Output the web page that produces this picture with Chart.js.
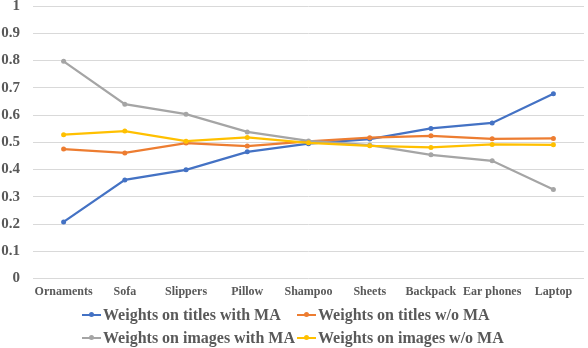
<!DOCTYPE html>
<html>
<head>
<meta charset="utf-8">
<script src="https://cdn.jsdelivr.net/npm/chart.js@4"></script>
<style>
    body { margin:0; background:#fff; }
    #wrap { position:relative; width:588px; height:348px; }
    #legend { position:absolute; left:0; top:0; width:588px; height:348px; pointer-events:none; }
    .lgItem { position:absolute; height:20px; display:flex; align-items:center; font:bold 16px "Liberation Serif", "Times New Roman", serif; color:#595959; white-space:nowrap; }
    .lgMark { position:relative; width:19px; height:2px; margin-right:2px; }
    .lgMark span { position:absolute; left:7px; top:-2px; width:5px; height:5px; border-radius:50%; }
</style>
</head>
<body>
<div id="wrap">
    <canvas id="canvWeights" width="588" height="348"></canvas>
    <div id="legend"></div>
</div>
<script>
// categories and series
const arrCategories = ['Ornaments', 'Sofa', 'Slippers', 'Pillow', 'Shampoo', 'Sheets', 'Backpack', 'Ear phones', 'Laptop'];
const arrTitlesWithMA = [0.208, 0.362, 0.399, 0.465, 0.495, 0.512, 0.551, 0.571, 0.678];
const arrTitlesNoMA = [0.475, 0.461, 0.497, 0.486, 0.503, 0.517, 0.524, 0.513, 0.514];
const arrImagesWithMA = [0.797, 0.640, 0.603, 0.538, 0.505, 0.490, 0.454, 0.432, 0.327];
const arrImagesNoMA = [0.528, 0.541, 0.504, 0.518, 0.498, 0.487, 0.481, 0.492, 0.491];
const arrSeriesNames = ['Weights on titles with MA', 'Weights on titles w/o MA', 'Weights on images with MA', 'Weights on images w/o MA'];
const arrColors = ['#4472C4', '#ED7D31', '#A5A5A5', '#FFC000'];
const arrYTicks = [0, 0.1, 0.2, 0.3, 0.4, 0.5, 0.6, 0.7, 0.8, 0.9, 1];

const arrSeries = [arrTitlesWithMA, arrTitlesNoMA, arrImagesWithMA, arrImagesNoMA];

// one line dataset per series, first series drawn at the bottom
const datasets = arrSeries.map((data, i) => ({
    label: arrSeriesNames[i],
    data: data,
    borderColor: arrColors[i],
    backgroundColor: arrColors[i],
    borderWidth: 2.25,
    pointRadius: 2.5,
    pointBorderWidth: 0,
    tension: 0,
    order: arrSeries.length - i
}));

const weightChart = new Chart(document.getElementById('canvWeights'), {
    type: 'line',
    data: { labels: arrCategories, datasets: datasets },
    options: {
        responsive: false,
        animation: false,
        layout: { padding: { top: 6, right: 0, bottom: 43, left: 0 } },
        plugins: { legend: { display: false }, tooltip: { enabled: false } },
        scales: {
            x: {
                offset: true,
                grid: { display: false, drawTicks: false },
                border: { display: false },
                ticks: {
                    padding: 6,
                    maxRotation: 0,
                    autoSkip: false,
                    color: '#595959',
                    font: { family: '"Liberation Serif", serif', size: 12, weight: 'bold' }
                }
            },
            y: {
                min: 0,
                max: 1,
                afterBuildTicks: (scale) => { scale.ticks = arrYTicks.map(v => ({ value: v })); },
                afterFit: (scale) => {
                    scale.width = 33;
                    scale.paddingTop = 0;
                    scale.paddingBottom = 0;
                },
                grid: { color: '#D9D9D9', lineWidth: 1, drawTicks: false },
                border: { display: false },
                ticks: {
                    padding: 13,
                    color: '#595959',
                    font: { family: '"Liberation Serif", serif', size: 15, weight: 'bold' },
                    callback: (v) => String(Math.round(v * 10) / 10)
                }
            }
        }
    }
});

// legend in two rows, Excel style
const arrLegendPos = [[82, 305], [297, 305], [82, 328], [297, 328]];
const divLegend = document.getElementById('legend');
arrSeriesNames.forEach((name, i) => {
    let item = document.createElement('div');
    item.className = 'lgItem';
    item.style.left = arrLegendPos[i][0] + 'px';
    item.style.top = arrLegendPos[i][1] + 'px';
    item.innerHTML = '<div class="lgMark" style="background:' + arrColors[i] + '"><span style="background:' + arrColors[i] + '"></span></div>';
    item.appendChild(document.createTextNode(name));
    divLegend.appendChild(item);
});
</script>
</body>
</html>
